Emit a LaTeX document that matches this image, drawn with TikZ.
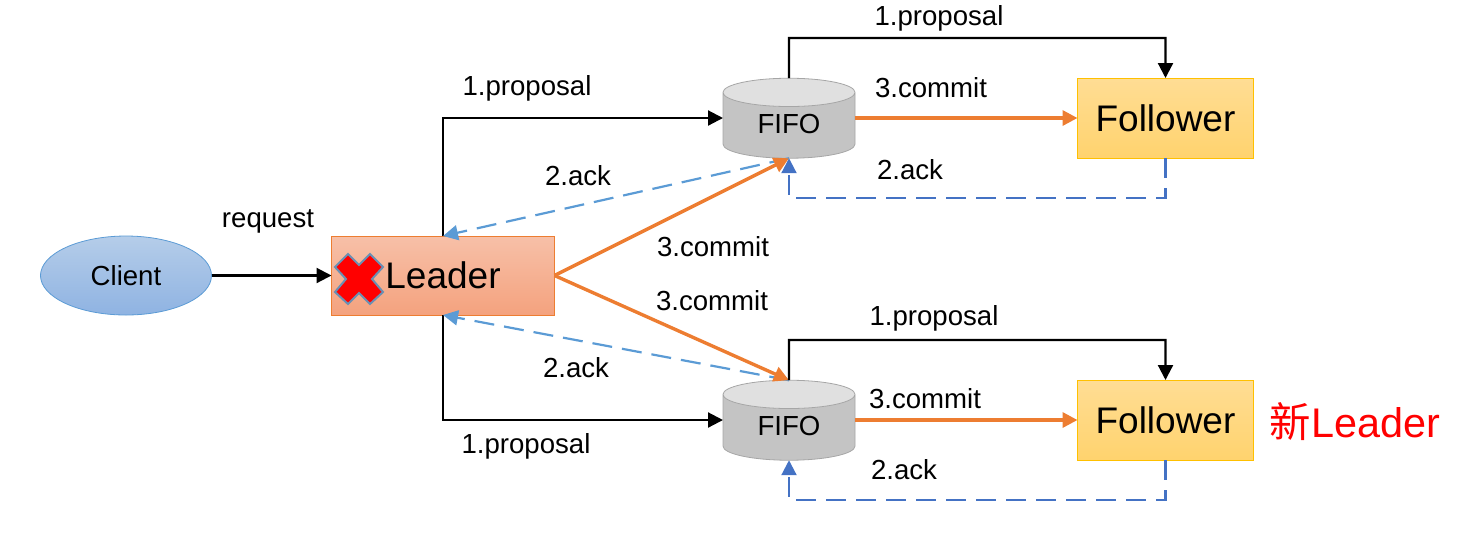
\documentclass[tikz,border=0pt]{standalone}
\usepackage{fontspec}
\setmainfont{Liberation Sans}
\newfontfamily\cjkfont{Noto Sans CJK SC}
\usetikzlibrary{arrows.meta}
\usetikzlibrary{shapes.geometric}
\definecolor{lineorange}{HTML}{ED7D31}
\definecolor{lineblue}{HTML}{5B9BD5}
\definecolor{linedark}{HTML}{4472C4}
\definecolor{B4}{HTML}{B5CDE9}
\definecolor{B8}{HTML}{8FB3E2}
\definecolor{L1}{HTML}{F7C0A8}
\definecolor{L2}{HTML}{F4A27E}
\definecolor{F0}{HTML}{FFC000}
\definecolor{F1}{HTML}{FFDD94}
\definecolor{F2}{HTML}{FFD36E}
\tikzstyle{cli}=[shape=ellipse,draw=lineblue,top color=B4,bottom color=B8,inner sep=0pt,outer sep=0pt,minimum width=85.5pt,minimum height=39.5pt,font=\fontsize{13.8}{16}\selectfont]
\tikzstyle{lead}=[shape=rectangle,draw=lineorange,top color=L1,bottom color=L2,inner sep=0pt,outer sep=0pt,minimum width=111.5pt,minimum height=39.5pt,font=\fontsize{18.5}{22}\selectfont]
\tikzstyle{foll}=[shape=rectangle,draw=F0,top color=F1,bottom color=F2,inner sep=0pt,outer sep=0pt,minimum width=88pt,minimum height=40pt,font=\fontsize{18.5}{22}\selectfont]
\tikzstyle{fifo}=[shape=cylinder,shape border rotate=90,draw=gray!70,cylinder uses custom fill,cylinder end fill=black!12,cylinder body fill=black!23,aspect=0.45,inner sep=0pt,outer sep=0pt,minimum width=66pt,minimum height=40pt,font=\fontsize{13.8}{16}\selectfont]
\tikzstyle{lab}=[inner sep=0pt,text height=0.72em,text depth=0.21em,font=\fontsize{13.8}{16}\selectfont]
\tikzstyle{tran}=[draw,line width=1.1pt,-{Stealth[length=7.5pt,width=7.5pt,inset=0pt]}]
\tikzstyle{comm}=[tran,draw=lineorange,line width=1.7pt,-{Stealth[length=7.5pt,width=7.5pt,inset=0pt]}]
\tikzstyle{ackl}=[tran,draw=lineblue,dash pattern=on 10pt off 5pt,-{Stealth[length=7.5pt,width=7.5pt,inset=0pt]}]
\tikzstyle{ackf}=[tran,draw=linedark,dash pattern=on 10pt off 5pt,-{Stealth[length=7.5pt,width=7.5pt,inset=0pt]}]
\begin{document}
\begin{tikzpicture}[x = 0.5pt, y = -0.5pt]
\useasboundingbox (0,0) rectangle (1483,538);

\node[cli] (client) at (126,275.5) {Client};
\node[lead] (leader) at (443,275.5) {Leader};
\node[fifo] (fifo1) at (789,125.5) {\raisebox{1.2pt}{FIFO}};
\node[fifo] (fifo2) at (789,427.5) {\raisebox{1.2pt}{FIFO}};
\node[foll] (foll1) at (1165.5,118) {Follower};
\node[foll] (foll2) at (1165.5,420) {Follower};

\draw[draw=lineblue!60!gray,fill=red,line width=1pt] (359,265) -- (370,254) -- (383,267) -- (372,279)
-- (383,292) -- (370,304) -- (359,293) -- (348,304) -- (335,292) -- (346,279) -- (335,267) -- (348,254) -- cycle;

\coordinate (dum1) at (0,38);
\coordinate (dum2) at (0,198);
\coordinate (dum3) at (0,340);
\coordinate (dum4) at (0,500);

\draw[tran] (client) -- (leader);
\draw[tran] (leader.north) |- (fifo1.west|-foll1.west);
\draw[tran] (leader.south) |- (fifo2.west|-foll2.west);

\draw[ackl] (fifo1.south) -- (leader.north);
\draw[ackl] (fifo2.north) -- (leader.south);
\draw[comm] (leader.east) -- (fifo1.south);
\draw[comm] (leader.east) -- (fifo2.north);

\draw[tran] (fifo1.north) -- (fifo1|-dum1) -- (foll1.north|-dum1) -- (foll1.north);
\draw[tran] (fifo2.north) -- (fifo2|-dum3) -- (foll2.north|-dum3) -- (foll2.north);
\draw[comm] (fifo1.east|-foll1.west) -- (foll1.west);
\draw[comm] (fifo2.east|-foll2.west) -- (foll2.west);
\draw[ackf] (foll1.south) -- (foll1.south|-dum2) -- (fifo1|-dum2) -- (fifo1.south);
\draw[ackf] (foll2.south) -- (foll2.south|-dum4) -- (fifo2|-dum4) -- (fifo2.south);

\node[lab] (req) at (268,222) {request};
\node[lab] (prop1) at (527,90) {1.proposal};
\node[lab] (prop2) at (939,20) {1.proposal};
\node[lab] (prop3) at (934,320) {1.proposal};
\node[lab] (prop4) at (526,448) {1.proposal};
\node[lab] (ack1) at (578,180) {2.ack};
\node[lab] (ack2) at (910,174) {2.ack};
\node[lab] (ack3) at (576,372) {2.ack};
\node[lab] (ack4) at (904,474) {2.ack};
\node[lab] (com1) at (931,92) {3.commit};
\node[lab] (com2) at (713,251) {3.commit};
\node[lab] (com3) at (712,305) {3.commit};
\node[lab] (com4) at (925,403) {3.commit};
\node[inner sep=0pt,text=red,font=\fontsize{20.7}{24}\selectfont] (newlead) at (1355,422) {{\cjkfont 新}Leader};
\end{tikzpicture}
\end{document}
